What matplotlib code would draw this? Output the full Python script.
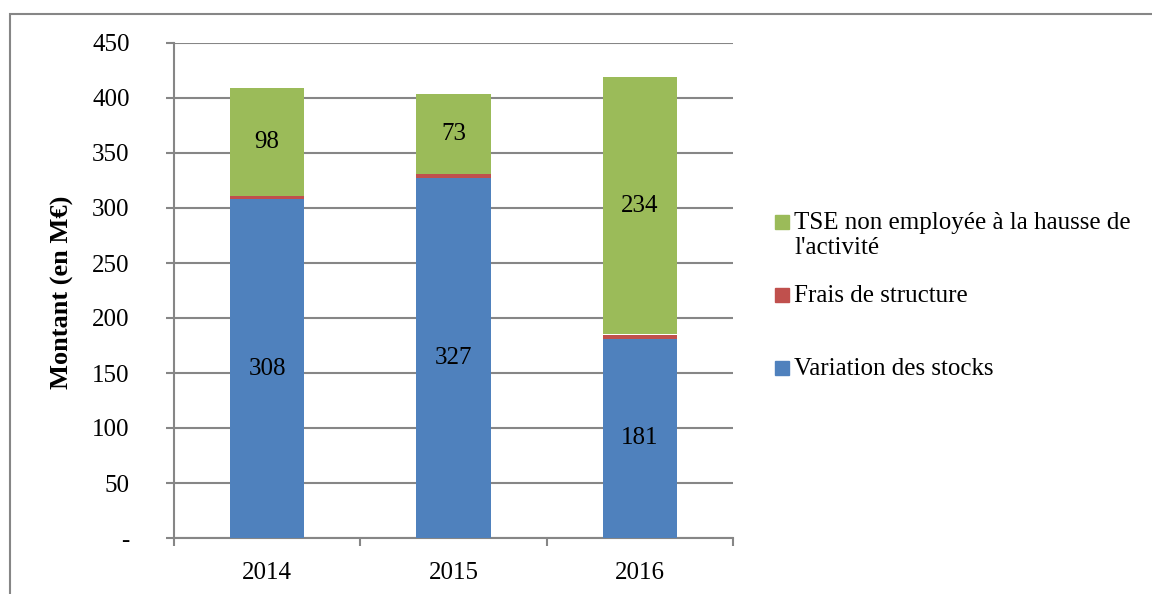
import matplotlib
matplotlib.use("Agg")
from matplotlib import pyplot as plt
from matplotlib.patches import Rectangle
import numpy as np

# Données du graphique (en M€)
annees = ["2014", "2015", "2016"]
variation_stocks = [308, 327, 181]
frais_structure = [3, 4, 4]
tse_non_employee = [98, 73, 234]

series = ["Variation des stocks", "Frais de structure",
          "TSE non employée à la hausse de\nl'activité"]
couleurs = ["#4F81BD", "#C0504D", "#9BBB59"]
yticks = [0, 50, 100, 150, 200, 250, 300, 350, 400, 450]
ytick_labels = ["-"] + [str(v) for v in yticks[1:]]

plt.rcParams["font.family"] = ["Liberation Serif", "DejaVu Serif"]
gris = "#868686"
W, H = 1152, 594
fs = 18

fig = plt.figure(figsize=(W / 100, H / 100), dpi=100)
ax = fig.add_axes([174 / W, 1 - 538 / H, (733 - 174) / W, (538 - 43) / H])

x = np.arange(len(annees))
largeur = 0.4
valeurs = [variation_stocks, frais_structure, tse_non_employee]
bas = np.zeros(len(annees))
for vals, c in zip(valeurs, couleurs):
    ax.bar(x, vals, largeur, bottom=bas, color=c, zorder=3)
    bas = bas + np.array(vals)

# étiquettes dans les barres (sauf frais de structure)
for i in range(len(annees)):
    ax.text(x[i], variation_stocks[i] / 2, str(variation_stocks[i]),
            ha="center", va="center", fontsize=fs, zorder=4)
    haut = variation_stocks[i] + frais_structure[i]
    ax.text(x[i], haut + tse_non_employee[i] / 2, str(tse_non_employee[i]),
            ha="center", va="center", fontsize=fs, zorder=4)

ax.set_xlim(-0.5, len(annees) - 0.5)
ax.set_ylim(0, 450)
ax.set_yticks(yticks)
ax.set_yticklabels(ytick_labels, fontsize=fs)
ax.set_xticks(x)
ax.set_xticklabels(annees, fontsize=fs)
ax.set_xticks(np.arange(-0.5, len(annees)), minor=True)
ax.tick_params(axis="x", which="major", length=0, pad=17)
ax.tick_params(axis="x", which="minor", length=6, width=1.5, color=gris, direction="out")
ax.tick_params(axis="y", length=6, width=1.5, color=gris, pad=26)
ax.grid(axis="y", color=gris, linewidth=1.5, zorder=0)
ax.set_axisbelow(True)

for s in ["top", "right"]:
    ax.spines[s].set_visible(False)
for s in ["left", "bottom"]:
    ax.spines[s].set_color(gris)
    ax.spines[s].set_linewidth(1.5)

fig.text(62 / W, 1 - 292 / H, "Montant (en M€)", rotation=90, ha="center",
         va="center", fontsize=19, fontweight="bold")

# légende (ordre inversé comme dans Excel)
y_leg = [222, 295, 368]
for lab, c, yy in zip(series[::-1], couleurs[::-1], y_leg):
    fig.patches.append(Rectangle((775 / W, 1 - (yy + 7) / H), 14 / W, 14 / H,
                                 transform=fig.transFigure, color=c))
    fig.text(794 / W, 1 - (yy - 10) / H, lab, ha="left", va="top",
             fontsize=fs, linespacing=1.2)

# cadre du graphique
fig.patches.append(Rectangle((10 / W, -0.1), 1.2, 1.1 - 14 / H, transform=fig.transFigure,
                             fill=False, edgecolor=gris, linewidth=1.5))

fig.savefig("out.png", dpi=100)
